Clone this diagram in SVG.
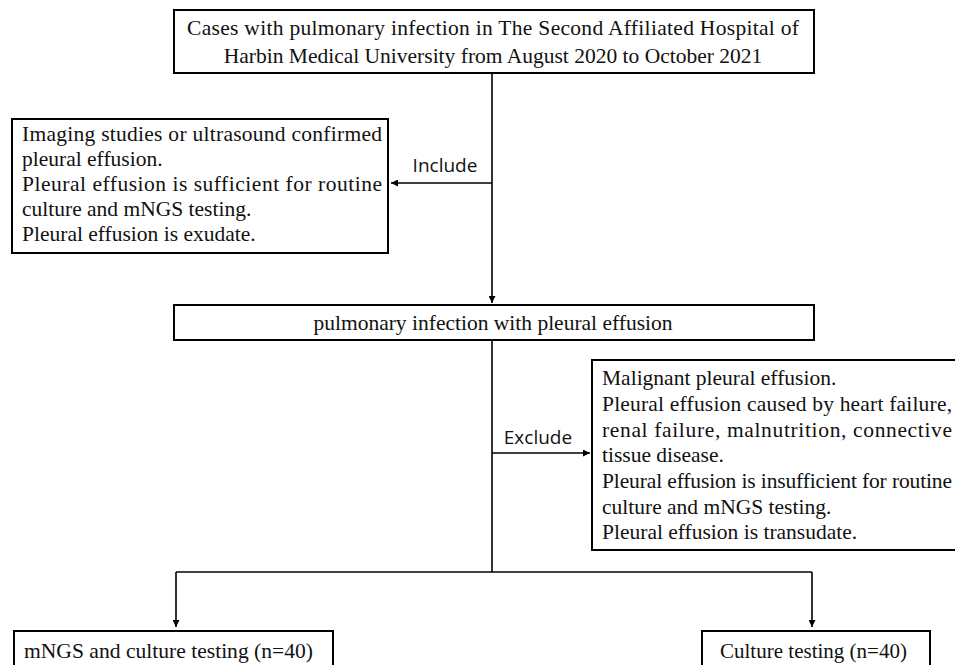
<svg xmlns="http://www.w3.org/2000/svg" width="955" height="665" viewBox="0 0 955 665">
<defs>
<style>
.box{fill:#fff;stroke:#000;stroke-width:2}
.t{font-family:"Liberation Serif","Times New Roman",serif;font-size:21.5px;fill:#111}
.s{font-family:"Open Sans","Liberation Sans",sans-serif;font-size:19px;fill:#111}
.c{fill:none;stroke:#000;stroke-width:1.6}
</style>
<marker id="ah" viewBox="0 0 10 10" refX="10" refY="5" markerWidth="7" markerHeight="7" markerUnits="userSpaceOnUse" orient="auto">
<path d="M0,0 L10,5 L0,10 z" fill="#000"/>
</marker>
</defs>
<g id="connectors">
<path class="c" d="M492,73 L492,303" marker-end="url(#ah)"/>
<path class="c" d="M492,183 L391,183" marker-end="url(#ah)"/>
<path class="c" d="M492,340 L492,572"/>
<path class="c" d="M492,453 L590,453" marker-end="url(#ah)"/>
<path class="c" d="M176,572 L812,572"/>
<path class="c" d="M176,572 L176,627" marker-end="url(#ah)"/>
<path class="c" d="M812,572 L812,627" marker-end="url(#ah)"/>
<text class="s" x="445" y="172" text-anchor="middle">Include</text>
<text class="s" x="538" y="444" text-anchor="middle">Exclude</text>
</g>
<g id="n1">
<rect class="box" x="174" y="10" width="640" height="63"/>
<text class="t" x="493" y="35" text-anchor="middle" textLength="612">Cases with pulmonary infection in The Second Affiliated Hospital of</text>
<text class="t" x="493" y="63" text-anchor="middle">Harbin Medical University from August 2020 to October 2021</text>
</g>
<g id="n2">
<rect class="box" x="12" y="119" width="376" height="134"/>
<text class="t" x="22" y="141" textLength="360">Imaging studies or ultrasound confirmed</text>
<text class="t" x="22" y="166">pleural effusion.</text>
<text class="t" x="22" y="191" textLength="360">Pleural effusion is sufficient for routine</text>
<text class="t" x="22" y="216">culture and mNGS testing.</text>
<text class="t" x="22" y="241">Pleural effusion is exudate.</text>
</g>
<g id="n3">
<rect class="box" x="174" y="305" width="640" height="35"/>
<text class="t" x="493" y="330" text-anchor="middle">pulmonary infection with pleural effusion</text>
</g>
<g id="n4">
<rect class="box" x="592" y="360" width="370" height="190"/>
<text class="t" x="602" y="385">Malignant pleural effusion.</text>
<text class="t" x="602" y="411" textLength="350">Pleural effusion caused by heart failure,</text>
<text class="t" x="602" y="437" textLength="350">renal failure, malnutrition, connective</text>
<text class="t" x="602" y="462">tissue disease.</text>
<text class="t" x="602" y="488" textLength="350">Pleural effusion is insufficient for routine</text>
<text class="t" x="602" y="514">culture and mNGS testing.</text>
<text class="t" x="602" y="539">Pleural effusion is transudate.</text>
</g>
<g id="n5">
<rect class="box" x="14" y="631" width="319" height="50"/>
<text class="t" x="24" y="658" style="font-size:22px" textLength="289" lengthAdjust="spacingAndGlyphs">mNGS and culture testing (n=40)</text>
</g>
<g id="n6">
<rect class="box" x="702" y="631" width="228" height="50"/>
<text class="t" x="720" y="658" style="font-size:22px" textLength="187" lengthAdjust="spacingAndGlyphs">Culture testing (n=40)</text>
</g>
</svg>
